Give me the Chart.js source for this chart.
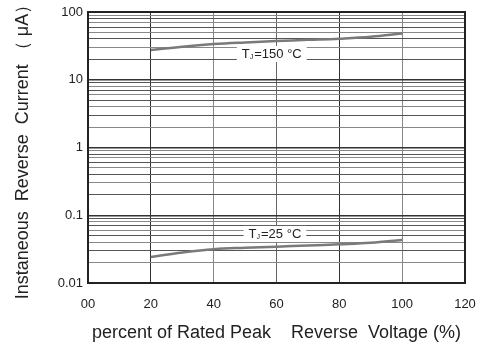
<!DOCTYPE html>
<html lang="en">
<head>
  <meta charset="UTF-8" />
  <title>Reverse Current vs Voltage</title>
  <script src="https://cdn.jsdelivr.net/npm/chart.js"></script>
  <style>
    html, body { margin: 0; padding: 0; background: #fff; }
    #wrap { width: 481px; height: 348px; }
  </style>
</head>
<body>
<div id="wrap"><canvas id="irChart" width="481" height="348"></canvas></div>
<script>
  // data
  const voltagePct = [20, 30, 40, 50, 60, 70, 80, 90, 100];
  const ir150 = [27.5, 30.8, 33.6, 35.6, 37.3, 38.8, 40.4, 43.0, 48.0];
  const ir25 = [0.0242, 0.0282, 0.0316, 0.0332, 0.0344, 0.0357, 0.0372, 0.0392, 0.0432];
  const xTickLabels = ['00', '20', '40', '60', '80', '100', '120'];
  const yDecades = [0.01, 0.1, 1, 10, 100];
  const yTickLabels = ['0.01', '0.1', '1', '10', '100'];

  const FONT = '"Liberation Sans", Arial, sans-serif';

  // all the log grid lines 1..9 x 10^n
  const yGrid = [];
  yDecades.forEach((d, i) => {
    if (i === yDecades.length - 1) { yGrid.push(d); return; }
    for (let k = 1; k <= 9; k++) yGrid.push(+(d * k).toPrecision(3));
  });
  const isDecade = (v) => yDecades.some(d => Math.abs(d - v) / d < 1e-6);

  // curve labels with white box
  const curveLabels = {
    id: 'curveLabels',
    afterDatasetsDraw(chart) {
      const { ctx, scales: { x, y } } = chart;
      const items = [
        { x: 58.5, y: 24, temp: '=150 °C' },
        { x: 59.5, y: 0.053, temp: '=25 °C' }
      ];
      ctx.save();
      ctx.textBaseline = 'middle';
      items.forEach(it => {
        const cx = x.getPixelForValue(it.x);
        const cy = y.getPixelForValue(it.y);
        ctx.font = '13px ' + FONT;
        const wT = ctx.measureText('T').width;
        const wR = ctx.measureText(it.temp).width;
        ctx.font = '7px ' + FONT;
        const wJ = ctx.measureText('J').width + 1;
        const w = wT + wJ + wR;
        const x0 = cx - w / 2;
        ctx.fillStyle = '#fff';
        ctx.fillRect(x0 - 5, cy - 8, w + 10, 16);
        ctx.fillStyle = '#222';
        ctx.font = '13px ' + FONT;
        ctx.fillText('T', x0, cy);
        ctx.font = '7px ' + FONT;
        ctx.fillText('J', x0 + wT, cy + 3);
        ctx.font = '13px ' + FONT;
        ctx.fillText(it.temp, x0 + wT + wJ, cy);
      });
      ctx.restore();
    }
  };

  const frame = {
    id: 'frame',
    afterDraw(chart) {
      const { ctx, chartArea: a } = chart;
      ctx.save();
      ctx.strokeStyle = '#222';
      ctx.lineWidth = 2;
      ctx.strokeRect(a.left, a.top, a.right - a.left, a.bottom - a.top);
      ctx.restore();
    }
  };

  new Chart(document.getElementById('irChart'), {
    type: 'line',
    data: {
      datasets: [
        {
          label: 'TJ=150°C',
          data: voltagePct.map((v, i) => ({ x: v, y: ir150[i] })),
          borderColor: '#7a7a7a',
          borderWidth: 2.5,
          pointRadius: 0,
          tension: 0.4,
          fill: false
        },
        {
          label: 'TJ=25°C',
          data: voltagePct.map((v, i) => ({ x: v, y: ir25[i] })),
          borderColor: '#7a7a7a',
          borderWidth: 2.5,
          pointRadius: 0,
          tension: 0.4,
          fill: false
        }
      ]
    },
    options: {
      responsive: false,
      animation: false,
      layout: { padding: { top: 12, right: 16, left: 0, bottom: 0 } },
      plugins: { legend: { display: false }, tooltip: { enabled: false } },
      scales: {
        x: {
          type: 'linear',
          min: 0, max: 120,
          ticks: {
            stepSize: 20,
            color: '#222',
            font: { family: FONT, size: 13 },
            padding: 14,
            callback: (v) => xTickLabels[Math.round(v / 20)]
          },
          grid: {
            drawTicks: false,
            color: (c) => ['#333', '#333', '#888', '#666', '#333', '#888', '#333'][c.index] || '#555',
            lineWidth: 1
          },
          border: { display: false },
          title: {
            display: true,
            text: 'percent of Rated Peak    Reverse  Voltage (%)',
            color: '#222',
            font: { family: FONT, size: 18 },
            padding: { top: 2 }
          },
          afterFit: (s) => { s.height = 65; s.paddingLeft = 0; s.paddingRight = 0; }
        },
        y: {
          type: 'logarithmic',
          min: 0.01, max: 100,
          afterBuildTicks: (s) => { s.ticks = yGrid.map(v => ({ value: v })); },
          ticks: {
            autoSkip: false,
            color: '#222',
            font: { family: FONT, size: 13 },
            padding: 5,
            callback: (v) => {
              const i = yDecades.findIndex(d => Math.abs(d - v) / d < 1e-6);
              return i >= 0 ? yTickLabels[i] : '';
            }
          },
          grid: {
            drawTicks: false,
            color: (c) => {
              const v = c.tick ? c.tick.value : 0;
              return isDecade(v) ? '#333' : (c.index % 2 ? '#888' : '#555');
            },
            lineWidth: (c) => {
              const v = c.tick ? c.tick.value : 0;
              return isDecade(v) ? 1.5 : 1;
            }
          },
          border: { display: false },
          title: {
            display: true,
            text: 'Instaneous  Reverse  Current （ μA）',
            color: '#222',
            font: { family: FONT, size: 18 },
            padding: { top: 12, bottom: 0 }
          },
          afterFit: (s) => { s.width = 88; s.paddingTop = 0; s.paddingBottom = 0; }
        }
      }
    },
    plugins: [curveLabels, frame]
  });
</script>
</body>
</html>
